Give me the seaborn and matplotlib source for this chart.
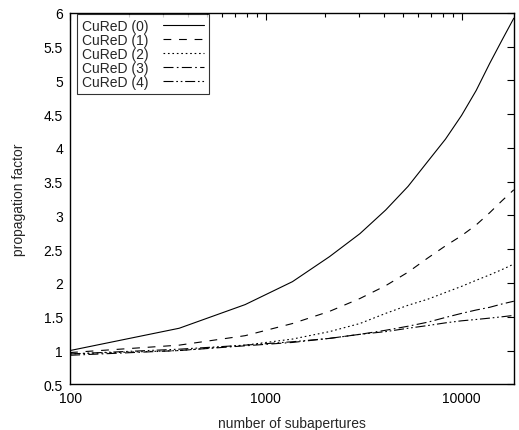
import numpy as np
import pandas as pd
import matplotlib
matplotlib.use("Agg")
import matplotlib.pyplot as plt
import seaborn as sns
from matplotlib.ticker import LogLocator, FixedLocator, NullFormatter

# number of subapertures (x) and propagation factor per method
subaps = [100, 361, 784, 1369, 2116, 3025, 4096, 5329, 6724, 8281,
          10000, 11881, 13924, 16129, 18496]
cured0 = [1.00, 1.33, 1.68, 2.02, 2.39, 2.73, 3.08, 3.43, 3.80, 4.13,
          4.48, 4.85, 5.25, 5.60, 5.92]
cured1 = [0.97, 1.08, 1.22, 1.40, 1.58, 1.77, 1.96, 2.16, 2.37, 2.55,
          2.70, 2.86, 3.04, 3.22, 3.38]
cured2 = [0.95, 1.00, 1.08, 1.17, 1.28, 1.40, 1.55, 1.67, 1.76, 1.86,
          1.95, 2.04, 2.12, 2.20, 2.28]
cured3 = [0.93, 1.00, 1.07, 1.12, 1.18, 1.24, 1.30, 1.36, 1.42, 1.49,
          1.55, 1.60, 1.64, 1.69, 1.73]
cured4 = [0.95, 1.02, 1.08, 1.13, 1.18, 1.24, 1.28, 1.33, 1.37, 1.41,
          1.44, 1.46, 1.48, 1.50, 1.52]
names = ["CuReD (0)", "CuReD (1)", "CuReD (2)", "CuReD (3)", "CuReD (4)"]

frames = []
for name, vals in zip(names, [cured0, cured1, cured2, cured3, cured4]):
    frames.append(pd.DataFrame({"n": subaps, "factor": vals, "method": name}))
df = pd.concat(frames, ignore_index=True)

sns.set_style("white")
plt.rcParams["font.family"] = ["Liberation Sans", "DejaVu Sans"]
plt.rcParams["font.size"] = 10

dashes = {
    names[0]: "",
    names[1]: (7, 7),
    names[2]: (1.5, 2.5),
    names[3]: (9, 3, 1.5, 3),
    names[4]: (9, 2.5, 1.5, 2.5, 1.5, 2.5),
}

fig = plt.figure(figsize=(5.19, 4.31), dpi=100)
ax = fig.add_axes([0.135, 0.106, 0.855, 0.862])
sns.lineplot(data=df, x="n", y="factor", hue="method", style="method",
             palette=["black"] * 5, dashes=dashes, linewidth=0.8, ax=ax)

ax.set_xscale("log")
ax.set_xlim(100, 18496)
ax.set_ylim(0.5, 6)
ax.set_yticks(np.arange(0.5, 6.01, 0.5))
ax.set_yticklabels(["0.5", "1", "1.5", "2", "2.5", "3", "3.5", "4", "4.5", "5", "5.5", "6"])
ax.xaxis.set_major_locator(FixedLocator([100, 1000, 10000]))
ax.set_xticklabels(["100", "1000", "10000"])
ax.xaxis.set_minor_locator(LogLocator(base=10, subs=np.arange(2, 10)))
ax.xaxis.set_minor_formatter(NullFormatter())

ax.tick_params(which="both", direction="in", top=True, right=True,
               colors="black", labelsize=10, width=0.8)
ax.tick_params(which="major", length=5, pad=5)
ax.tick_params(which="minor", length=3)
for s in ax.spines.values():
    s.set_color("black")
    s.set_linewidth(1.0)

ax.set_xlabel("number of subapertures", fontsize=10, labelpad=8)
ax.set_ylabel("propagation factor", fontsize=10, labelpad=13)

handles, labels = ax.get_legend_handles_labels()
leg = ax.legend(handles, labels, loc="upper left", markerfirst=False,
                bbox_to_anchor=(0.016, 0.997), borderaxespad=0,
                frameon=True, fancybox=False, handlelength=3.0,
                borderpad=0.35, labelspacing=0.0,
                handletextpad=1.0, fontsize=10)
leg.get_frame().set_edgecolor("black")
leg.get_frame().set_linewidth(0.8)

fig.savefig("out.png", dpi=100)
